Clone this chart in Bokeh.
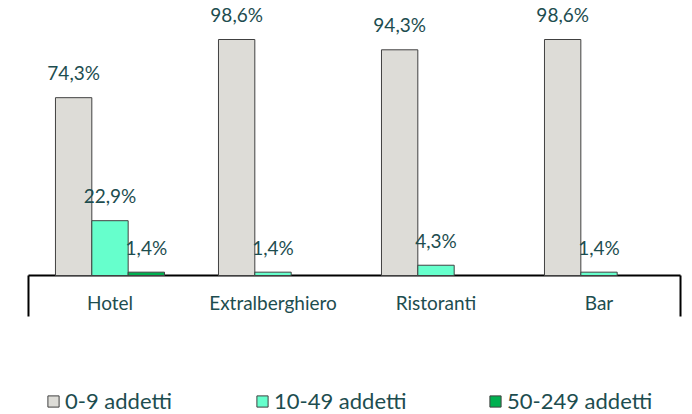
from bokeh.plotting import figure
from bokeh.models import Range1d, Legend, LegendItem, ColumnDataSource
from bokeh.embed import file_html
from bokeh.resources import INLINE
from bokeh.core.properties import value

categories = ["Hotel", "Extralberghiero", "Ristoranti", "Bar"]
series_names = ["0-9 addetti", "10-49 addetti", "50-249 addetti"]
s_0_9 = [74.3, 98.6, 94.3, 98.6]
s_10_49 = [22.9, 1.4, 4.3, 1.4]
s_50_249 = [1.4, 0.0, 0.0, 0.0]
colors = ["#DDDCD7", "#66FFCC", "#00B050"]

FONT = "Lato"
TXT = "#1D4D4F"
n = len(categories)

p = figure(width=692, height=414, output_backend="svg", toolbar_location=None,
           x_range=Range1d(-0.049, n + 0.049), y_range=Range1d(-58.07, 114.9),
           min_border_left=20, min_border_right=4, min_border_top=0,
           min_border_bottom=0)
p.outline_line_color = None
p.background_fill_color = "white"
p.border_fill_color = "white"
p.xgrid.visible = False
p.ygrid.visible = False
p.xaxis.visible = False
p.yaxis.visible = False

# category axis: baseline and outer boundary lines
p.segment(x0=[0], y0=[0], x1=[n], y1=[0], line_color="black", line_width=2)
p.segment(x0=[0, n], y0=[0, 0], x1=[0, n], y1=[-17.13, -17.13],
          line_color="black", line_width=2)
cat_src = ColumnDataSource(dict(x=[i + 0.5 for i in range(n)], y=[0] * n, t=categories))
p.text(x="x", y="y", text="t", source=cat_src, text_align="center",
       text_baseline="alphabetic", y_offset=27, text_color=TXT,
       text_font=value(FONT), text_font_size="19px")

bar_w = 0.223
offsets = [-bar_w, 0.0, bar_w]
renderers = []
for k, vals in enumerate([s_0_9, s_10_49, s_50_249]):
    xs, tops, labels = [], [], []
    for i, v in enumerate(vals):
        if v > 0:
            xs.append(i + 0.5 + offsets[k])
            tops.append(v)
            labels.append(("%.1f" % v).replace(".", ",") + "%")
    src = ColumnDataSource(dict(x=xs, top=tops, lab=labels))
    r = p.vbar(x="x", top="top", bottom=0, width=bar_w, source=src,
               fill_color=colors[k], line_color="#404040", line_width=1)
    renderers.append(r)
    p.text(x="x", y="top", text="lab", source=src, text_align="center",
           text_baseline="alphabetic", y_offset=-25, text_color=TXT,
           text_font=value(FONT), text_font_size="19px")

leg_x = [26, 235, 468]
for k in range(3):
    leg = Legend(items=[LegendItem(label=series_names[k], renderers=[renderers[k]])],
                 location=(leg_x[k], 0), orientation="horizontal",
                 padding=0, margin=0, border_line_color=None,
                 background_fill_alpha=0, glyph_width=14, glyph_height=14,
                 label_standoff=5, label_text_font=FONT,
                 label_text_font_size="22px", label_text_color=TXT)
    p.add_layout(leg, "center")

open("out.html", "w").write(file_html(p, INLINE))
